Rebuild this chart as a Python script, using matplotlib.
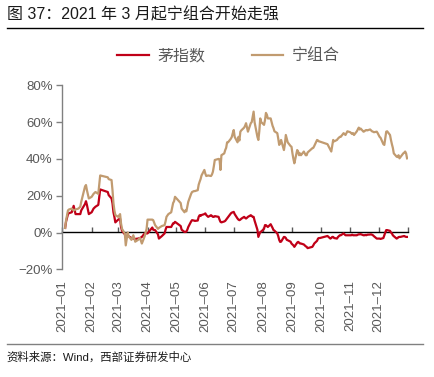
import matplotlib
matplotlib.use("Agg")
import matplotlib.pyplot as plt
import matplotlib.dates as mdates
import pandas as pd

plt.rcParams['font.family'] = ['Liberation Sans', 'Noto Sans CJK SC', 'DejaVu Sans']

dates = [
    "2021-01-04", "2021-01-05", "2021-01-07", "2021-01-08", "2021-01-11", "2021-01-13",
    "2021-01-15", "2021-01-18", "2021-01-20", "2021-01-21", "2021-01-25", "2021-01-26",
    "2021-01-27", "2021-01-29",
    "2021-02-01", "2021-02-03", "2021-02-05", "2021-02-08", "2021-02-09", "2021-02-10",
    "2021-02-18", "2021-02-19", "2021-02-22", "2021-02-23", "2021-02-24", "2021-02-25",
    "2021-02-26",
    "2021-03-01", "2021-03-03", "2021-03-04", "2021-03-05", "2021-03-08", "2021-03-09",
    "2021-03-11", "2021-03-12", "2021-03-15", "2021-03-17", "2021-03-19", "2021-03-22",
    "2021-03-24", "2021-03-26", "2021-03-29", "2021-03-31",
    "2021-04-01", "2021-04-06", "2021-04-07", "2021-04-09", "2021-04-12", "2021-04-13",
    "2021-04-16", "2021-04-19", "2021-04-20", "2021-04-21", "2021-04-23", "2021-04-26",
    "2021-04-27", "2021-04-28", "2021-04-29", "2021-04-30",
    "2021-05-06", "2021-05-07", "2021-05-10", "2021-05-11", "2021-05-12", "2021-05-13",
    "2021-05-14", "2021-05-17", "2021-05-18", "2021-05-20", "2021-05-21", "2021-05-24",
    "2021-05-25", "2021-05-26", "2021-05-27", "2021-05-28", "2021-05-31",
    "2021-06-01", "2021-06-02", "2021-06-04", "2021-06-07", "2021-06-08", "2021-06-09",
    "2021-06-10", "2021-06-11", "2021-06-15", "2021-06-16", "2021-06-17", "2021-06-18",
    "2021-06-21", "2021-06-22", "2021-06-23", "2021-06-24", "2021-06-25", "2021-06-28",
    "2021-06-29", "2021-06-30",
    "2021-07-01", "2021-07-02", "2021-07-05", "2021-07-06", "2021-07-07", "2021-07-08",
    "2021-07-09", "2021-07-12", "2021-07-13", "2021-07-14", "2021-07-15", "2021-07-16",
    "2021-07-19", "2021-07-20", "2021-07-21", "2021-07-22", "2021-07-23", "2021-07-26",
    "2021-07-27", "2021-07-28", "2021-07-29", "2021-07-30",
    "2021-08-02", "2021-08-03", "2021-08-04", "2021-08-05", "2021-08-06", "2021-08-09",
    "2021-08-10", "2021-08-11", "2021-08-12", "2021-08-13", "2021-08-16", "2021-08-17",
    "2021-08-18", "2021-08-19", "2021-08-20", "2021-08-23", "2021-08-24", "2021-08-25",
    "2021-08-26", "2021-08-27", "2021-08-30", "2021-08-31",
    "2021-09-01", "2021-09-02", "2021-09-03", "2021-09-06", "2021-09-07", "2021-09-08",
    "2021-09-09", "2021-09-10", "2021-09-13", "2021-09-14", "2021-09-15", "2021-09-16",
    "2021-09-17", "2021-09-22", "2021-09-23", "2021-09-24", "2021-09-27", "2021-09-28",
    "2021-09-29", "2021-09-30",
    "2021-10-08", "2021-10-11", "2021-10-12", "2021-10-13", "2021-10-14", "2021-10-15",
    "2021-10-18", "2021-10-19", "2021-10-20", "2021-10-21", "2021-10-22", "2021-10-25",
    "2021-10-26", "2021-10-27", "2021-10-28", "2021-10-29",
    "2021-11-01", "2021-11-02", "2021-11-03", "2021-11-04", "2021-11-05", "2021-11-08",
    "2021-11-09", "2021-11-10", "2021-11-11", "2021-11-12", "2021-11-15", "2021-11-16",
    "2021-11-17", "2021-11-18", "2021-11-19", "2021-11-22", "2021-11-23", "2021-11-24",
    "2021-11-25", "2021-11-26", "2021-11-29", "2021-11-30",
    "2021-12-01", "2021-12-02", "2021-12-03", "2021-12-06", "2021-12-07", "2021-12-08",
    "2021-12-09", "2021-12-10", "2021-12-13", "2021-12-14", "2021-12-15", "2021-12-16",
    "2021-12-17", "2021-12-20", "2021-12-21", "2021-12-22", "2021-12-23", "2021-12-24",
    "2021-12-27", "2021-12-28", "2021-12-29", "2021-12-30", "2021-12-31",
]

# 宁组合 (%)
ning = [
    2.5, 6.7, 12.0, 12.5, 13.0, 12.0, 12.5, 13.0, 14.0, 16.7, 25.0, 25.8, 23.0, 18.5,
    19.4, 21.0, 22.0, 21.0, 25.8, 31.0, 30.0, 29.0, 28.5, 23.0, 16.0, 12.0, 9.5,
    8.5, 10.0, 5.0, 2.0, -0.5, -7.0, 0.0, -2.0, -4.0, -1.5, -5.0, -4.0, -3.0, -6.0, -2.0, 2.0,
    7.0, 7.0, 6.7, 4.0, 2.0, 2.5, 3.5, 4.0, 6.0, 8.5, 10.0, 11.0, 13.5, 16.0, 17.0, 19.4,
    16.0, 13.0, 11.0, 12.0, 11.5, 14.0, 16.7, 21.0, 22.0, 22.5, 22.5, 23.0, 26.0, 27.6, 29.0, 31.0, 34.0,
    32.0, 30.7, 31.0, 30.7, 31.5, 33.0, 36.0, 39.4, 40.0, 39.8, 34.0, 42.0, 43.0, 44.8, 46.0, 49.0,
    49.0, 51.0, 52.0, 54.0,
    55.7, 52.0, 49.0, 52.0, 50.0, 54.8, 55.5, 57.0, 58.0, 59.4, 57.0, 54.8, 59.4, 60.0, 63.0, 65.7,
    60.0, 52.0, 50.3, 55.0, 62.0, 60.0,
    58.5, 61.0, 65.0, 64.0, 62.0, 62.0, 60.0, 58.0, 56.7, 55.0, 54.0, 51.0, 47.6, 48.5, 50.3, 44.8,
    48.0, 53.0, 51.0, 49.0, 47.0, 46.6,
    43.0, 40.0, 37.6, 44.8, 44.0, 42.0, 43.0, 42.0, 44.0, 43.0, 42.0, 42.0, 43.5, 45.8, 46.0, 47.0,
    50.3, 50.0, 49.5, 49.4,
    48.0, 45.0, 44.0, 47.0, 50.3, 49.5, 50.3, 51.0, 51.5, 52.0, 52.0, 54.0, 53.5, 53.0, 54.0, 55.0,
    54.5, 54.0, 53.5, 54.0, 53.0, 55.0, 56.0, 57.0, 56.0, 56.5, 54.8, 55.0, 55.5, 55.7, 55.5, 56.0,
    55.5, 55.0, 54.8, 54.5, 54.8, 54.0,
    53.0, 52.0, 51.5, 48.0, 47.6, 51.0, 54.8, 55.0, 53.0, 50.3, 48.0, 46.0, 43.0, 41.2, 41.0, 42.0,
    40.3, 41.0, 43.0, 43.4, 44.0, 43.0, 40.3,
]

# 茅指数 (%)
mao = [
    2.5, 6.0, 10.0, 10.5, 11.0, 14.5, 10.0, 10.0, 10.0, 12.0, 15.5, 17.0, 15.0, 10.0,
    11.0, 13.0, 14.0, 15.0, 19.4, 23.4, 22.0, 20.3, 18.5, 15.8, 11.0, 8.5, 5.5,
    7.0, 7.5, 3.0, 1.0, -1.0, -2.4, -1.5, -2.0, -3.0, -3.3, -3.5, -3.3, -3.0, -2.4, -0.5, -0.5,
    -0.5, 2.7, 1.5, 1.3, -1.0, -3.3, -2.0, -0.5, 1.5, 3.0, 3.0, 3.0, 4.0, 5.0, 5.0, 5.8,
    3.5, 1.5, 0.3, 0.3, 0.5, 1.5, 3.0, 6.0, 6.7, 6.5, 6.3, 6.5, 8.5, 9.4, 9.0, 9.5, 10.0,
    10.4, 9.5, 8.5, 9.4, 9.0, 8.5, 8.5, 8.9, 8.5, 7.0, 5.8, 5.5, 6.0, 6.3, 7.0, 7.6,
    8.5, 10.4, 10.8, 11.0,
    11.2, 10.0, 7.6, 7.0, 6.7, 7.0, 7.5, 8.5, 8.0, 7.6, 8.0, 8.5, 9.4, 9.0, 8.5, 8.5,
    6.5, 1.5, -2.4, -1.0, 0.3, 0.5,
    2.0, 4.0, 4.0, 3.5, 3.0, 4.5, 3.5, 2.5, 1.3, 1.0, -0.5, -2.0, -4.0, -5.1, -5.0, -2.4,
    -2.5, -3.0, -4.0, -4.2, -5.0, -6.0,
    -6.5, -7.0, -7.8, -5.5, -5.1, -5.5, -6.0, -6.0, -6.5, -7.0, -7.5, -7.8, -8.5, -7.8, -7.0, -6.0,
    -4.5, -3.3, -3.0, -3.0,
    -1.9, -3.3, -3.0, -2.4, -2.4, -3.0, -3.3, -2.5, -2.0, -1.5, -1.5, -0.5, -1.0, -1.5, -1.5, -1.5,
    -1.5, -1.5, -1.2, -1.5, -1.5, -1.5, -1.2, -1.0, -1.0, -0.9, -1.5, -1.5, -1.3, -1.5, -1.2, -1.1,
    -1.0, -1.2, -1.5, -2.0, -3.3, -3.3,
    -3.3, -3.3, -3.5, -3.0, -1.5, 0.0, 1.3, 1.3, 0.9, 0.0, -0.5, -1.5, -2.0, -3.3, -3.0, -2.5,
    -2.4, -2.4, -2.0, -1.9, -2.2, -2.4, -2.4,
]

series_names = ["茅指数", "宁组合"]
colors = ["#C00018", "#C19B70"]
month_ticks = pd.date_range("2021-01-01", "2022-01-01", freq="MS")
month_labels = [d.strftime("%Y-%m").replace("-", "–") for d in month_ticks[:-1]] + [""]
y_ticks = [-20, 0, 20, 40, 60, 80]

x = pd.to_datetime(dates)

fig = plt.figure(figsize=(4.35, 3.77), dpi=100)
ax = fig.add_axes([62.3 / 435, 1 - 269.3 / 377, (408 - 62.3) / 435, (269.3 - 85.3) / 377])

ax.plot(x, mao, color=colors[0], lw=1.6, label=series_names[0], zorder=2)
ax.plot(x, ning, color=colors[1], lw=1.6, label=series_names[1], zorder=3)

ax.set_xlim(pd.Timestamp("2021-01-01"), pd.Timestamp("2022-01-01"))
ax.set_ylim(-20, 80)
ax.set_yticks(y_ticks)
ax.set_yticklabels([f"{v}%".replace("-", "−") for v in y_ticks])

for s in ["top", "right", "bottom"]:
    ax.spines[s].set_visible(False)
ax.spines["left"].set_color("#808080")
ax.spines["left"].set_linewidth(1.0)
ax.tick_params(axis="y", direction="out", length=4, width=1, color="#808080",
               labelcolor="#595959", labelsize=9.5, pad=3)

ax.set_xticks(month_ticks)
ax.set_xticklabels(month_labels, rotation=90)
ax.tick_params(axis="x", length=0, labelcolor="#595959", labelsize=9.5, pad=8)

sec = ax.secondary_xaxis(0.2)
sec.set_xticks(month_ticks)
sec.set_xticklabels([])
sec.tick_params(direction="in", length=3.5, width=1, color="#595959")
sec.spines["bottom"].set_color("black")
sec.spines["bottom"].set_linewidth(1.0)

leg = fig.legend(loc="center", bbox_to_anchor=(0.525, 0.852), ncol=2, frameon=False,
                 fontsize=11.5, handlelength=2.0, columnspacing=2.9, handletextpad=0.5)
for t in leg.get_texts():
    t.set_color("#595959")

fig.text(0.016, 0.962, "图 37：2021 年 3 月起宁组合开始走强", fontsize=11.5,
         va="center", ha="left", color="#1a1a1a")
fig.add_artist(plt.Line2D([0.016, 0.972], [0.926, 0.926], color="black", lw=1.0,
                          transform=fig.transFigure))
fig.add_artist(plt.Line2D([0.016, 0.972], [0.0875, 0.0875], color="#808080", lw=1.0,
                          transform=fig.transFigure))
fig.text(0.016, 0.053, "资料来源：Wind，西部证券研发中心", fontsize=8.2,
         va="center", ha="left", color="#1a1a1a")

fig.savefig("out.png", dpi=100)
